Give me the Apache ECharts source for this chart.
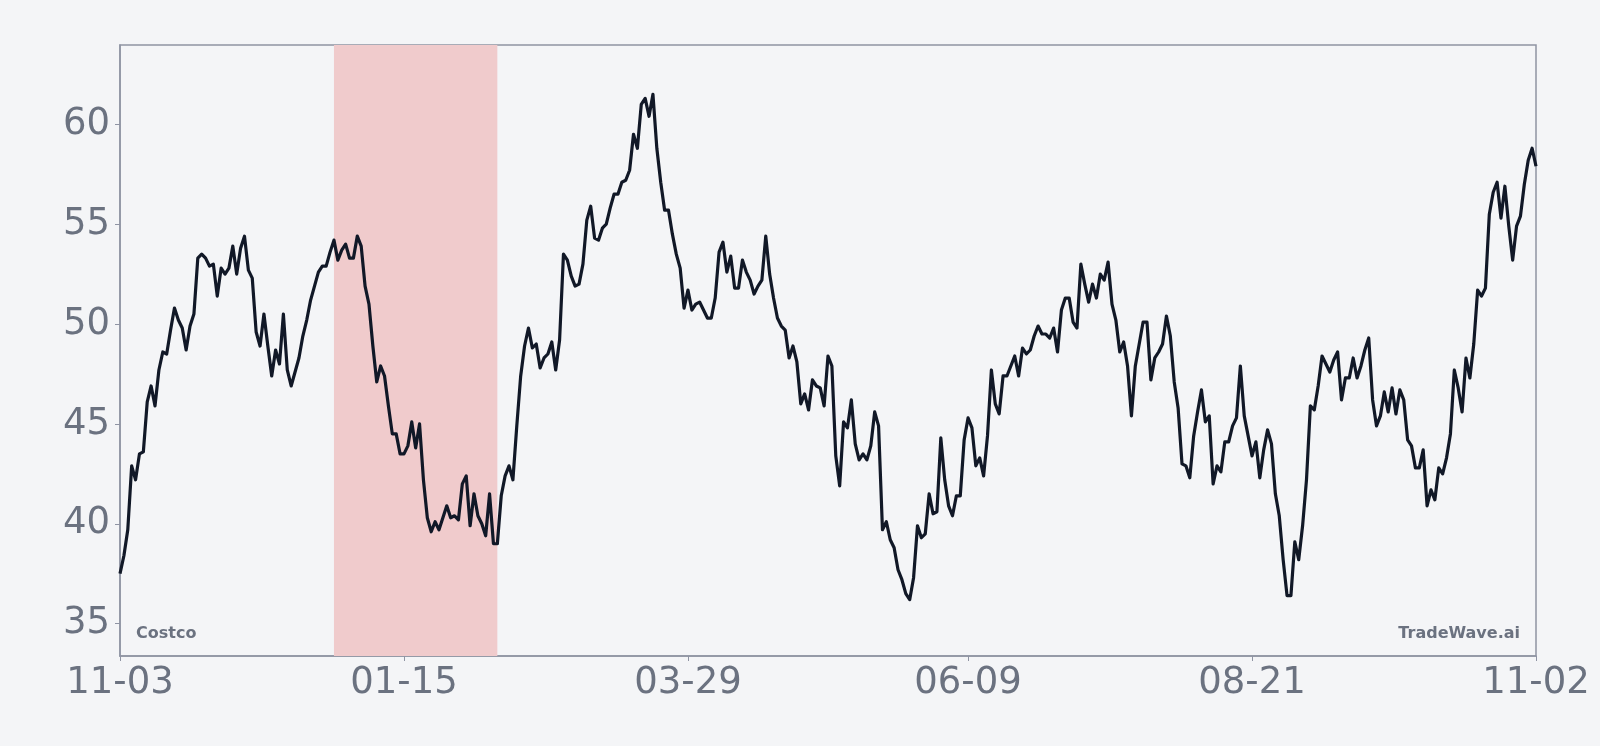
<!DOCTYPE html>
<html lang="en">
<head>
    <meta charset="UTF-8">
    <title>Costco</title>
    <script src="https://cdn.jsdelivr.net/npm/echarts@6.0.0/dist/echarts.min.js"></script>
    <style>
        html, body { margin: 0; padding: 0; background: #f4f5f7; }
        #chart { width: 1600px; height: 746px; }
    </style>
</head>
<body>
<div id="chart"></div>

<script>
    // daily closes, 11-03 .. 11-02, split in five blocks of 73 days
    var closeNovJan = [
        37.5, 38.4, 39.7, 42.9, 42.2, 43.5, 43.6, 46.1, 46.9, 45.9,
        47.7, 48.6, 48.5, 49.7, 50.8, 50.2, 49.8, 48.7, 49.9, 50.5,
        53.3, 53.5, 53.3, 52.9, 53.0, 51.4, 52.8, 52.5, 52.8, 53.9,
        52.5, 53.8, 54.4, 52.7, 52.3, 49.6, 48.9, 50.5, 48.9, 47.4,
        48.7, 48.0, 50.5, 47.7, 46.9, 47.6, 48.3, 49.4, 50.2, 51.2,
        51.9, 52.6, 52.9, 52.9, 53.6, 54.2, 53.2, 53.7, 54.0, 53.3,
        53.3, 54.4, 53.9, 51.9, 51.0, 48.9, 47.1, 47.9, 47.4, 45.9,
        44.5, 44.5, 43.5
    ];
    var closeJanMar = [
        43.5, 43.9, 45.1, 43.8, 45.0, 42.2, 40.3,
        39.6, 40.1, 39.7, 40.3, 40.9, 40.3, 40.4, 40.2, 42.0, 42.4,
        39.9, 41.5, 40.4, 40.0, 39.4, 41.5, 39.0, 39.0, 41.4, 42.4,
        42.9, 42.2, 44.9, 47.4, 48.9, 49.8, 48.8, 49.0, 47.8, 48.3,
        48.5, 49.1, 47.7, 49.2, 53.5, 53.2, 52.4, 51.9, 52.0, 53.0,
        55.2, 55.9, 54.3, 54.2, 54.8, 55.0, 55.8, 56.5, 56.5, 57.1,
        57.2, 57.7, 59.5, 58.8, 61.0, 61.3, 60.4, 61.5, 58.8, 57.1,
        55.7, 55.7, 54.5, 53.5, 52.8, 50.8
    ];
    var closeMarJun = [
        51.7, 50.7, 51.0, 51.1,
        50.7, 50.3, 50.3, 51.3, 53.6, 54.1, 52.6, 53.4, 51.8, 51.8,
        53.2, 52.6, 52.2, 51.5, 51.9, 52.2, 54.4, 52.5, 51.3, 50.3,
        49.9, 49.7, 48.3, 48.9, 48.1, 46.0, 46.5, 45.7, 47.2, 46.9,
        46.8, 45.9, 48.4, 47.9, 43.4, 41.9, 45.1, 44.8, 46.2, 44.0,
        43.2, 43.5, 43.2, 43.9, 45.6, 44.9, 39.7, 40.1, 39.2, 38.8,
        37.7, 37.2, 36.5, 36.2, 37.3, 39.9, 39.3, 39.5, 41.5, 40.5,
        40.6, 44.3, 42.2, 40.9, 40.4, 41.4, 41.4, 44.2, 45.3
    ];
    var closeJunAug = [
        44.8,
        42.9, 43.3, 42.4, 44.4, 47.7, 46.0, 45.5, 47.4, 47.4, 47.9,
        48.4, 47.4, 48.8, 48.5, 48.7, 49.4, 49.9, 49.5, 49.5, 49.3,
        49.8, 48.6, 50.7, 51.3, 51.3, 50.1, 49.8, 53.0, 52.0, 51.1,
        52.0, 51.3, 52.5, 52.2, 53.1, 51.0, 50.2, 48.6, 49.1, 47.9,
        45.4, 47.9, 49.0, 50.1, 50.1, 47.2, 48.3, 48.6, 49.0, 50.4,
        49.4, 47.1, 45.8, 43.0, 42.9, 42.3, 44.4, 45.6, 46.7, 45.1,
        45.4, 42.0, 42.9, 42.6, 44.1, 44.1, 44.9, 45.3, 47.9, 45.4,
        44.4, 43.4
    ];
    var closeAugNov = [
        44.1, 42.3, 43.7, 44.7, 44.0, 41.5, 40.4, 38.2,
        36.4, 36.4, 39.1, 38.2, 39.9, 42.2, 45.9, 45.7, 46.9, 48.4,
        48.0, 47.6, 48.2, 48.6, 46.2, 47.3, 47.3, 48.3, 47.3, 47.9,
        48.7, 49.3, 46.2, 44.9, 45.4, 46.6, 45.6, 46.8, 45.5, 46.7,
        46.2, 44.2, 43.9, 42.8, 42.8, 43.7, 40.9, 41.7, 41.2, 42.8,
        42.5, 43.3, 44.5, 47.7, 46.8, 45.6, 48.3, 47.3, 49.0, 51.7,
        51.4, 51.8, 55.5, 56.6, 57.1, 55.3, 56.9, 54.9, 53.2, 54.9,
        55.4, 57.0, 58.2, 58.8, 57.9
    ];
    var tickLabels = ['11-03', '01-15', '03-29', '06-09', '08-21', '11-02'];
    var yTicks = [35, 40, 45, 50, 55, 60];
    var shadeRange = ['12-28', '02-08'];

    var closes = closeNovJan.concat(closeJanMar, closeMarJun, closeJunAug, closeAugNov);

    // one category per calendar day, shown as MM-DD
    var days = [];
    var d = new Date(2022, 10, 3);
    for (var i = 0; i < closes.length; i++) {
        var mm = ('0' + (d.getMonth() + 1)).slice(-2);
        var dd = ('0' + d.getDate()).slice(-2);
        days.push(mm + '-' + dd);
        d.setDate(d.getDate() + 1);
    }

    function showTick(index, value) {
        return tickLabels.indexOf(value) !== -1;
    }

    var axisColor = '#8f94a3';
    var textColor = '#6b7280';

    var myChart = echarts.init(document.getElementById('chart'));
    var option = {
        backgroundColor: '#f4f5f7',
        animation: false,
        grid: {
            left: 120,
            right: 64,
            top: 45,
            bottom: 90,
            show: true,
            borderColor: axisColor,
            borderWidth: 1.5,
            backgroundColor: 'transparent'
        },
        xAxis: {
            type: 'category',
            data: days,
            boundaryGap: false,
            axisLine: {lineStyle: {color: axisColor, width: 1.5}},
            axisTick: {show: true, interval: showTick, length: 5, lineStyle: {color: axisColor}},
            axisLabel: {
                interval: showTick,
                color: textColor,
                fontFamily: 'DejaVu Sans',
                fontSize: 37,
                margin: 9,
                showMinLabel: true,
                showMaxLabel: true
            },
            splitLine: {show: false}
        },
        yAxis: {
            type: 'value',
            min: 33.38,
            max: 63.97,
            axisLine: {show: true, lineStyle: {color: axisColor, width: 1.5}},
            axisTick: {show: true, length: 5, customValues: yTicks, lineStyle: {color: axisColor}},
            axisLabel: {
                customValues: yTicks,
                color: textColor,
                fontFamily: 'DejaVu Sans',
                fontSize: 37,
                margin: 10
            },
            splitLine: {show: false}
        },
        graphic: [
            {
                type: 'text',
                x: 136,
                y: 634,
                style: {
                    text: 'Costco',
                    fill: textColor,
                    font: 'bold 16px "DejaVu Sans"',
                    align: 'left',
                    verticalAlign: 'middle'
                }
            },
            {
                type: 'text',
                x: 1520,
                y: 634,
                style: {
                    text: 'TradeWave.ai',
                    fill: textColor,
                    font: 'bold 16px "DejaVu Sans"',
                    align: 'right',
                    verticalAlign: 'middle'
                }
            }
        ],
        series: [
            {
                name: 'Costco',
                type: 'line',
                data: closes,
                showSymbol: false,
                lineStyle: {color: '#111827', width: 3.2, join: 'round'},
                markArea: {
                    silent: true,
                    itemStyle: {color: '#f0cbcc'},
                    data: [[{xAxis: shadeRange[0]}, {xAxis: shadeRange[1]}]]
                }
            }
        ]
    };
    myChart.setOption(option);
</script>

</body>
</html>
